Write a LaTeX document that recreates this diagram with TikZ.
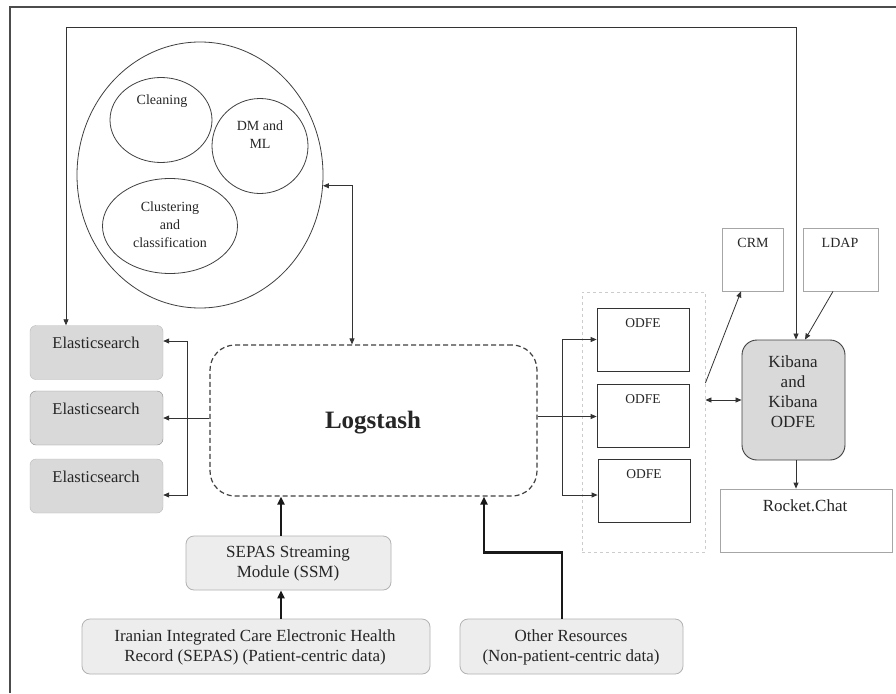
\documentclass[tikz,border=0pt]{standalone}
\usepackage{fontspec}
\setmainfont{Liberation Serif}
\usetikzlibrary{arrows.meta,shapes.geometric}
\begin{document}
\begin{tikzpicture}[x=1pt,y=1pt,
  txt/.style={inner sep=0pt,text=black!85,align=center},
  fs/.style={font=\fontsize{14}{18}\selectfont},
  fm/.style={font=\fontsize{16.5}{19.5}\selectfont},
  fl/.style={font=\fontsize{17}{20}\selectfont},
  ell/.style={draw=black!75,line width=0.8pt,ellipse,inner sep=0pt},
  esbox/.style={draw=gray!55,fill=gray!30,rounded corners=6pt,minimum width=133pt,minimum height=54pt,inner sep=0pt},
  plain/.style={draw=gray!70,line width=0.8pt,inner sep=0pt},
  srcbox/.style={draw=gray!60,fill=gray!14,rounded corners=8pt,line width=0.8pt,inner sep=0pt},
  arr/.style={line width=0.8pt,draw=black!80,-{Triangle[length=6pt,width=5pt]}},
  dbl/.style={line width=0.8pt,draw=black!80,{Triangle[length=6pt,width=5pt]}-{Triangle[length=6pt,width=5pt]}},
  thk/.style={line width=2.6pt,draw=black!90,-{Triangle[length=8pt,width=7pt]}}
]
\useasboundingbox (0,0) rectangle (896,-693);
\fill[white] (0,0) rectangle (896,-693);
% outer frame
\draw[line width=1.2pt,black!70] (10,-693) -- (10,-7) -- (896,-7);

% processing circle
\node[ell,minimum width=246pt,minimum height=266pt] (proc) at (200,-175) {};
\node[ell,minimum width=102pt,minimum height=85pt] (clean) at (161,-120) {};
\node[txt,fs] (cleant) at (162,-101) {Cleaning};
\node[ell,minimum width=96pt,minimum height=95pt] (dm) at (260,-146) {};
\node[txt,fs] (dmt) at (260,-135) {DM and\\ML};
\node[ell,minimum width=135pt,minimum height=95pt] (clus) at (170,-226) {};
\node[txt,fs] (clust) at (170,-224.5) {Clustering\\and\\classification};

% Logstash
\node[draw=black!75,line width=1.2pt,dash pattern=on 5pt off 3pt,rounded corners=25pt,minimum width=327pt,minimum height=151pt,inner sep=0pt] (ls) at (373.5,-420.5) {};
\node[txt,font=\fontsize{25}{28}\bfseries] (lst) at (373,-423) {Logstash};

% Elasticsearch
\node[esbox] (es1) at (96.5,-352.5) {};
\node[esbox,draw=gray!90] (es2) at (96.5,-418) {};
\node[esbox] (es3) at (96.5,-486) {};
\node[txt,fm] (es1t) at (96,-343) {Elasticsearch};
\node[txt,fm] (es2t) at (96,-409) {Elasticsearch};
\node[txt,fm] (es3t) at (96,-477) {Elasticsearch};

% ODFE
\node[draw=gray!40,line width=0.8pt,dashed,minimum width=123pt,minimum height=260pt,inner sep=0pt] (odfec) at (643.5,-422) {};
\node[draw=black!80,line width=0.8pt,minimum width=92pt,minimum height=63pt,inner sep=0pt] (odfe1) at (643,-339.5) {};
\node[draw=black!80,line width=0.8pt,minimum width=92pt,minimum height=63pt,inner sep=0pt] (odfe2) at (643,-415.5) {};
\node[draw=black!80,line width=0.8pt,minimum width=92pt,minimum height=63pt,inner sep=0pt] (odfe3) at (644,-490.5) {};
\node[txt,font=\fontsize{13.5}{16}\selectfont] (o1t) at (643,-323) {ODFE};
\node[txt,font=\fontsize{13.5}{16}\selectfont] (o2t) at (643,-399) {ODFE};
\node[txt,font=\fontsize{13.5}{16}\selectfont] (o3t) at (644,-474) {ODFE};

% CRM, LDAP, Kibana, Rocket.Chat
\node[plain,minimum width=61pt,minimum height=63pt] (crm) at (752.5,-259.5) {};
\node[txt,fs] (crmt) at (753,-243) {CRM};
\node[plain,minimum width=75pt,minimum height=63pt] (ldap) at (840.5,-259.5) {};
\node[txt,fs] (ldapt) at (840,-243) {LDAP};
\node[draw=black!75,line width=0.9pt,fill=gray!30,rounded corners=15pt,minimum width=103pt,minimum height=120pt,inner sep=0pt] (kib) at (793.5,-400) {};
\node[txt,fl] (kibt) at (793,-391.5) {Kibana\\and\\Kibana\\ODFE};
\node[plain,minimum width=172pt,minimum height=63pt] (rc) at (806,-520.5) {};
\node[txt,fl] (rct) at (805,-506) {Rocket.Chat};

% sources
\node[srcbox,minimum width=205pt,minimum height=54pt] (ssm) at (288.5,-563) {};
\node[txt,fl] (ssmt) at (288,-564) {SEPAS Streaming\\Module (SSM)};
\node[srcbox,minimum width=348pt,minimum height=55pt] (sepas) at (256,-646.5) {};
\node[txt,fl] (sepast) at (255,-647) {Iranian Integrated Care Electronic Health\\Record (SEPAS) (Patient-centric data)};
\node[srcbox,minimum width=223pt,minimum height=55pt] (oth) at (571.5,-646.5) {};
\node[txt,fl] (otht) at (571,-647) {Other Resources\\(Non-patient-centric data)};

% connectors
\draw[dbl] (proc.-5.5) -| ([xshift=-21.5pt]ls.north);
\draw[dbl] ([xshift=-30.5pt]es1.north) -- ++(0,298) -| ([xshift=2.5pt]kib.north);

\coordinate (lb) at (187,-418);
\draw[arr] (ls.west |- es2.east) -- (es2.east);
\draw[arr] (lb) |- ([yshift=11.5pt]es1.east);
\draw[arr] (lb) |- ([yshift=-9pt]es3.east);

\coordinate (rb) at (562,-416.5);
\draw[arr] (ls.east |- rb) -- (odfe2.west |- rb);
\draw[arr] (rb) |- (odfe1.west);
\draw[arr] (rb) |- ([yshift=-4.5pt]odfe3.west);

\draw[dbl] (odfec.east |- kib.west) -- (kib.west);
\draw[arr] ([yshift=39pt]odfec.east) -- ([xshift=-11.5pt]crm.south);
\draw[arr] ([xshift=-7.5pt]ldap.south) -- ([xshift=11.5pt]kib.north);
\draw[arr] ([xshift=2.5pt]kib.south) -- ([xshift=2.5pt]kib.south |- rc.north);

\draw[thk] ([xshift=-7.5pt]ssm.north) -- ([xshift=-7.5pt]ssm.north |- ls.south);
\draw[thk] ([xshift=-7.5pt]ssm.south |- sepas.north) -- ([xshift=-7.5pt]ssm.south);
\draw[thk] ([xshift=-9.5pt]oth.north) -- ++(0,66) -| ([xshift=110.5pt]ls.south);
\end{tikzpicture}
\end{document}
